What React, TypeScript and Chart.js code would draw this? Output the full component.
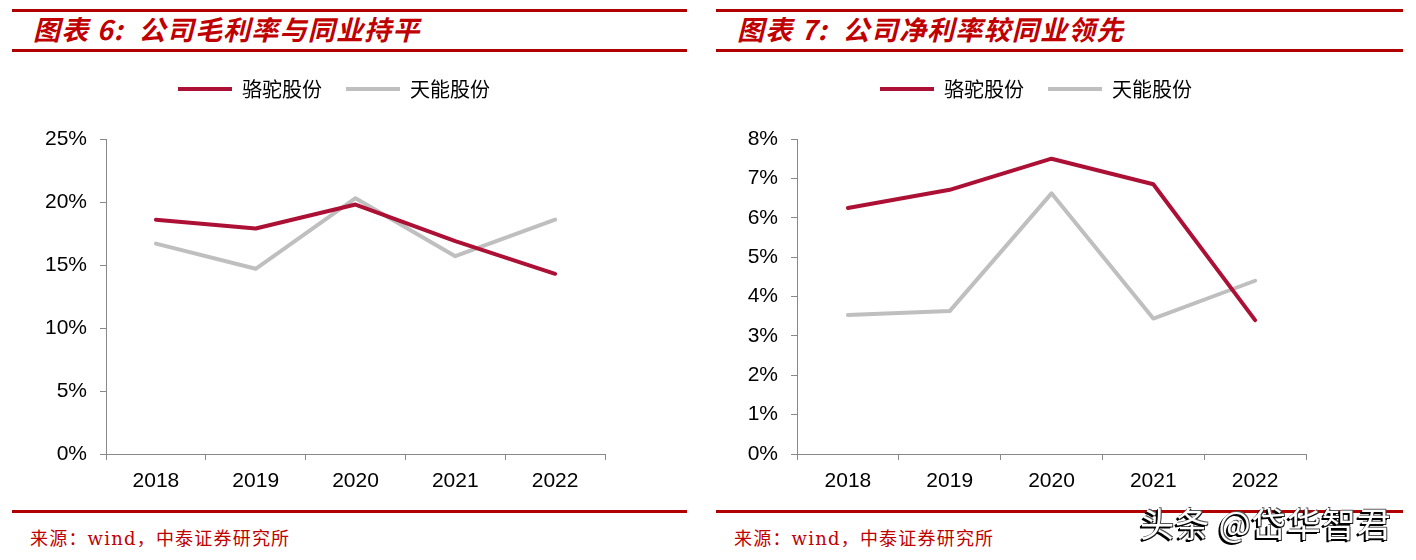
import React, { useEffect, useRef } from "react";
import { Chart, registerables } from "chart.js";

Chart.register(...registerables);

const categories = ["2018", "2019", "2020", "2021", "2022"];
const seriesNames = ["骆驼股份", "天能股份"];

const grossCamel = [18.6, 17.9, 19.8, 16.9, 14.3];
const grossTianneng = [16.7, 14.7, 20.3, 15.7, 18.6];

const netCamel = [6.25, 6.71, 7.5, 6.85, 3.4];
const netTianneng = [3.53, 3.63, 6.62, 3.44, 4.4];

const title1 = "图表 6:  公司毛利率与同业持平";
const title2 = "图表 7:  公司净利率较同业领先";
const sourceText = "来源：wind，中泰证券研究所";
const watermark = "头条 @岱华智君";

const RED = "#AD1035";
const GRAY = "#BFBFBF";
const AXIS = "#898989";
const DARKRED = "#B00000";

type PanelProps = {
  left: number;
  width: number;
  title: string;
  canvasLeft: number;
  yAxisWidth: number;
  rightGap: number;
  redData: number[];
  grayData: number[];
  yMax: number;
  yStep: number;
};

function LineChart(props: PanelProps) {
  const ref = useRef<HTMLCanvasElement | null>(null);
  useEffect(() => {
    if (!ref.current) return;
    const chart = new Chart(ref.current, {
      type: "line",
      data: {
        labels: categories,
        datasets: [
          {
            label: seriesNames[0],
            data: props.redData,
            borderColor: RED,
            backgroundColor: RED,
            borderWidth: 4,
            pointRadius: 0,
            tension: 0,
            borderJoinStyle: "round",
            borderCapStyle: "round",
          },
          {
            label: seriesNames[1],
            data: props.grayData,
            borderColor: GRAY,
            backgroundColor: GRAY,
            borderWidth: 4,
            pointRadius: 0,
            tension: 0,
            borderJoinStyle: "round",
            borderCapStyle: "round",
          },
        ],
      },
      options: {
        responsive: false,
        animation: false,
        layout: { padding: 0 },
        plugins: {
          tooltip: { enabled: false },
          legend: {
            display: true,
            position: "top",
            labels: {
              usePointStyle: true,
              pointStyle: "line",
              pointStyleWidth: 54,
              padding: 24,
              color: "#000",
              font: { family: '"Noto Sans CJK SC", sans-serif', size: 20 },
            },
          },
        },
        scales: {
          x: {
            type: "category",
            offset: true,
            grid: {
              offset: true,
              drawOnChartArea: false,
              drawTicks: true,
              tickLength: 6,
              color: AXIS,
            },
            border: { display: true, color: AXIS, width: 1 },
            ticks: {
              color: "#000",
              padding: 9,
              maxRotation: 0,
              font: { family: '"Liberation Sans", Arial, sans-serif', size: 21 },
            },
            afterFit: (s: any) => {
              s.height = 46;
            },
          },
          xT: {
            type: "linear",
            position: "top",
            display: true,
            grid: { display: false },
            border: { display: false },
            ticks: { display: false },
            afterFit: (s: any) => {
              s.height = 30;
            },
          },
          y: {
            type: "linear",
            min: 0,
            max: props.yMax,
            grid: {
              drawOnChartArea: false,
              drawTicks: true,
              tickLength: 6,
              color: AXIS,
            },
            border: { display: true, color: AXIS, width: 1 },
            ticks: {
              stepSize: props.yStep,
              color: "#000",
              padding: 13,
              font: { family: '"Liberation Sans", Arial, sans-serif', size: 21 },
              callback: (v: any) => `${v}%`,
            },
            afterFit: (s: any) => {
              s.width = props.yAxisWidth;
            },
          },
          yR: {
            type: "linear",
            position: "right",
            display: true,
            grid: { display: false },
            border: { display: false },
            ticks: { display: false },
            afterFit: (s: any) => {
              s.width = props.rightGap;
            },
          },
        },
      },
    } as any);
    return () => chart.destroy();
  }, []);
  return (
    <canvas
      ref={ref}
      width={628}
      height={445}
      style={{ position: "absolute", left: props.canvasLeft, top: 55, width: 628, height: 445 }}
    />
  );
}

function Panel(props: PanelProps) {
  const lineStyle = (top: number): React.CSSProperties => ({
    position: "absolute",
    left: props.left,
    top,
    width: props.width,
    height: 3,
    background: DARKRED,
  });
  return (
    <>
      <div style={lineStyle(9)} />
      <div
        style={{
          position: "absolute",
          left: props.left + 21,
          top: 14,
          fontFamily: '"Noto Sans CJK SC", sans-serif',
          fontSize: 27,
          lineHeight: "30px",
          fontWeight: 700,
          fontStyle: "italic",
          letterSpacing: 1.2,
          color: "#C00000",
          whiteSpace: "pre",
        }}
      >
        {props.title}
      </div>
      <div style={lineStyle(49)} />
      <LineChart {...props} />
      <div style={lineStyle(510)} />
      <div
        style={{
          position: "absolute",
          left: props.left + 18,
          top: 527,
          fontFamily: '"DejaVu Serif", "Noto Sans CJK SC", serif',
          fontSize: 18,
          lineHeight: "24px",
          color: "#C00000",
          whiteSpace: "pre",
          letterSpacing: 1.2,
        }}
      >
        {sourceText}
      </div>
    </>
  );
}

export default function App() {
  return (
    <div
      style={{
        position: "absolute",
        left: 0,
        top: 0,
        width: 1416,
        height: 560,
        background: "#fff",
        overflow: "hidden",
      }}
    >
      <Panel
        left={12}
        width={675}
        title={title1}
        canvasLeft={20}
        yAxisWidth={86}
        rightGap={43}
        redData={grossCamel}
        grayData={grossTianneng}
        yMax={25}
        yStep={5}
      />
      <Panel
        left={716}
        width={687}
        title={title2}
        canvasLeft={722}
        yAxisWidth={75}
        rightGap={44}
        redData={netCamel}
        grayData={netTianneng}
        yMax={8}
        yStep={1}
      />
      <div
        style={{
          position: "absolute",
          left: 1140,
          top: 502,
          fontFamily: '"Noto Sans CJK SC", sans-serif',
          fontSize: 34,
          lineHeight: "42px",
          fontWeight: 400,
          letterSpacing: 1,
          color: "#fff",
          whiteSpace: "pre",
          textShadow: "-2px 2px 0 #000, -1px 1px 0 #000, 1px -1px 0 #555, 1px 1px 0 #222",
        }}
      >
        {watermark}
      </div>
    </div>
  );
}
